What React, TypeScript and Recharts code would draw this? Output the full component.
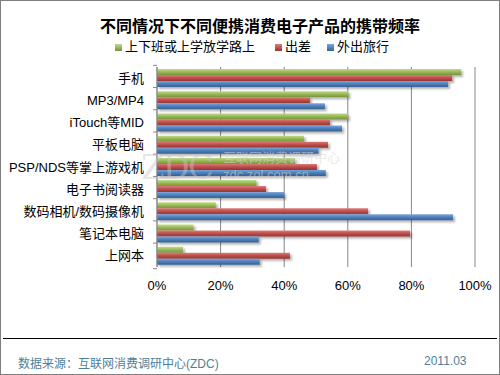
import { BarChart, Bar, XAxis, YAxis, CartesianGrid } from "recharts";

const categories = [
  "手机",
  "MP3/MP4",
  "iTouch等MID",
  "平板电脑",
  "PSP/NDS等掌上游戏机",
  "电子书阅读器",
  "数码相机/数码摄像机",
  "笔记本电脑",
  "上网本",
];
const commute = [95.6, 60.2, 60, 46.2, 43.4, 31.3, 18.5, 11.5, 8.2];
const business = [92.8, 48.1, 54.4, 53.8, 50.3, 34.3, 66.4, 79.6, 41.8];
const travel = [91.5, 52.8, 58.2, 50.8, 53.1, 40, 93.1, 32, 32.3];
const xTicks = [0, 20, 40, 60, 80, 100];

const data = categories.map((name, i) => ({
  name,
  commute: commute[i],
  business: business[i],
  travel: travel[i],
}));

const series = [
  { key: "commute", name: "上下班或上学放学路上", color: "#9bbb59", light: "#c0da8a", dark: "#76923c" },
  { key: "business", name: "出差", color: "#c0504d", light: "#e07b78", dark: "#923532" },
  { key: "travel", name: "外出旅行", color: "#4f81bd", light: "#7ba6dc", dark: "#36608f" },
];

const FONT = '"Liberation Sans", Arial, "Noto Sans CJK SC", sans-serif';
const AXIS_X = 156;
const BAND = 230 / categories.length;

function CategoryTick(props: any) {
  const { x, y, payload, index } = props;
  return (
    <g>
      <line x1={AXIS_X - 4} x2={AXIS_X} y1={y - BAND / 2} y2={y - BAND / 2} stroke="#868686" />
      {index === categories.length - 1 && (
        <line x1={AXIS_X - 4} x2={AXIS_X} y1={y + BAND / 2} y2={y + BAND / 2} stroke="#868686" />
      )}
      <text x={x} y={y} textAnchor="end" dominantBaseline="central" fontSize={13} fill="#000" fontFamily={FONT}>
        {payload.value}
      </text>
    </g>
  );
}

export default function App() {
  return (
    <div
      style={{
        position: "absolute",
        left: 0,
        top: 0,
        width: 498,
        height: 373,
        border: "1px solid #7f7f7f",
        background: "#fff",
        fontFamily: FONT,
      }}
    >
      <div
        style={{
          position: "absolute",
          top: 12,
          left: 20,
          width: 478,
          textAlign: "center",
          fontSize: 16,
          fontWeight: "bold",
          color: "#000",
        }}
      >
        不同情况下不同便携消费电子产品的携带频率
      </div>
      <div
        style={{
          position: "absolute",
          top: 38,
          left: 114,
          display: "flex",
          fontSize: 13,
          color: "#000",
          lineHeight: "16px",
        }}
      >
        {series.map((s, i) => (
          <div key={s.key} style={{ display: "flex", alignItems: "center", marginRight: i === 0 ? 20 : 16 }}>
            <span
              style={{
                display: "inline-block",
                width: 7,
                height: 7,
                background: `linear-gradient(${s.light}, ${s.dark})`,
                marginRight: 3,
              }}
            />
            {s.name}
          </div>
        ))}
      </div>
      <div
        style={{
          position: "absolute",
          left: 0,
          top: 0,
          pointerEvents: "none",
        }}
      >
        <BarChart
          width={500}
          height={375}
          data={data}
          layout="vertical"
          margin={{ top: 66, right: 26, bottom: 79, left: 6 }}
          barCategoryGap="9%"
          barGap={0}
        >
          <defs>
            {series.map((s) => (
              <linearGradient key={s.key} id={`g-${s.key}`} x1="0" y1="0" x2="0" y2="1">
                <stop offset="0%" stopColor={s.light} />
                <stop offset="45%" stopColor={s.color} />
                <stop offset="100%" stopColor={s.dark} />
              </linearGradient>
            ))}
            <filter id="shadow" x="-5%" y="-30%" width="115%" height="190%">
              <feDropShadow dx="2" dy="2" stdDeviation="1" floodColor="#000" floodOpacity="0.3" />
            </filter>
          </defs>
          <CartesianGrid horizontal={false} stroke="#868686" />
          <XAxis
            type="number"
            domain={[0, 100]}
            ticks={xTicks}
            tickFormatter={(v) => `${v}%`}
            axisLine={false}
            tickLine={false}
            tickSize={0}
            tickMargin={14}
            tick={{ fontSize: 13, fill: "#000", fontFamily: FONT }}
          />
          <YAxis
            type="category"
            dataKey="name"
            width={150}
            axisLine={{ stroke: "#868686" }}
            tickLine={false}
            tickSize={4}
            tickMargin={9}
            tick={<CategoryTick />}
            interval={0}
          />
          {series.map((s) => (
            <Bar
              key={s.key}
              dataKey={s.key}
              name={s.name}
              fill={`url(#g-${s.key})`}
              filter="url(#shadow)"
              isAnimationActive={false}
            />
          ))}
        </BarChart>
      </div>
      <div
        style={{
          position: "absolute",
          left: 140,
          top: 146,
          fontSize: 34,
          fontFamily: '"DejaVu Serif", serif',
          color: "rgba(200,200,200,0.45)",
          letterSpacing: -2,
          pointerEvents: "none",
        }}
      >
        ZDC
      </div>
      <div
        style={{
          position: "absolute",
          left: 222,
          top: 148,
          fontSize: 13,
          lineHeight: "17px",
          color: "rgba(215,215,215,0.55)",
          pointerEvents: "none",
        }}
      >
        <div>互联网消费调研中心</div>
        <div>zdc.zol.com.cn</div>
      </div>
      <div
        style={{
          position: "absolute",
          left: 2,
          right: 2,
          top: 337,
          height: 1,
          background: "#000",
        }}
      />
      <div
        style={{
          position: "absolute",
          left: 17,
          top: 353,
          fontSize: 12,
          color: "#4f7f98",
        }}
      >
        数据来源：互联网消费调研中心(ZDC)
      </div>
      <div
        style={{
          position: "absolute",
          left: 423,
          top: 353,
          fontSize: 12,
          color: "#4f7f98",
        }}
      >
        2011.03
      </div>
    </div>
  );
}
